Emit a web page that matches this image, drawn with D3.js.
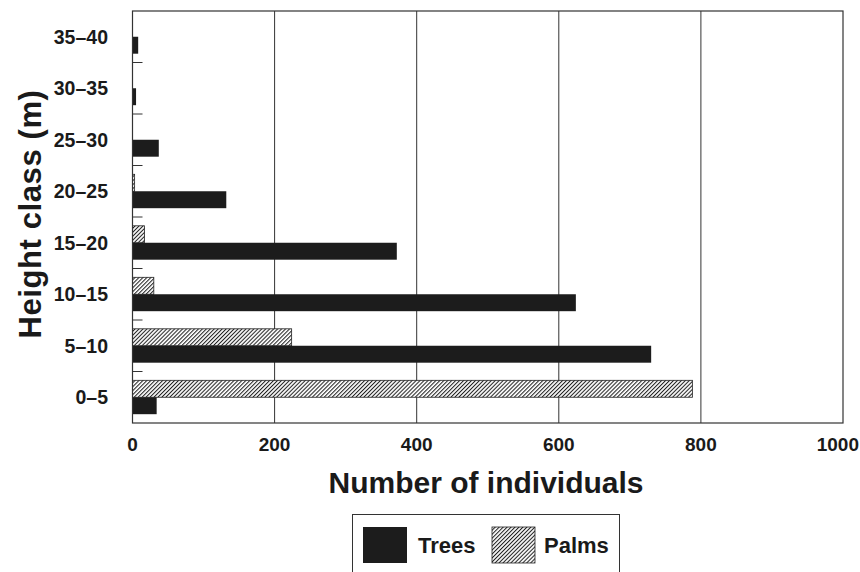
<!DOCTYPE html>
<html><head><meta charset="utf-8">
<script src="https://cdn.jsdelivr.net/npm/d3@7"></script>
<style>body{margin:0;background:#fff}svg{display:block}text{font-family:"Liberation Sans",Arial,sans-serif;font-weight:bold;fill:#1a1a1a}</style>
</head><body>
<script>
const categories = ["0–5","5–10","10–15","15–20","20–25","25–30","30–35","35–40"];
const trees = [34, 730, 624, 372, 132, 37, 5, 8];
const palms = [788, 224, 30, 17, 3, 0, 0, 0];
const xTicks = [0, 200, 400, 600, 800, 1000];
const seriesNames = ["Trees", "Palms"];

const W = 860, H = 572;
const m = {left: 132.5, top: 11, right: 843, bottom: 423};
const svg = d3.select("body").append("svg").attr("width", W).attr("height", H);
const defs = svg.append("defs");
const pat = defs.append("pattern").attr("id","hatch").attr("patternUnits","userSpaceOnUse")
  .attr("width",2.8).attr("height",2.8).attr("patternTransform","rotate(45)");
pat.append("rect").attr("width",2.8).attr("height",2.8).attr("fill","#fff");
pat.append("line").attr("x1",0.5).attr("y1",0).attr("x2",0.5).attr("y2",2.8).attr("stroke","#222").attr("stroke-width",1.1);

const x = d3.scaleLinear().domain([0,1000]).range([m.left, m.right]);
const y = d3.scaleBand().domain(categories.slice().reverse()).range([m.top, m.bottom]);
const inner = d3.scaleBand().domain(["Palms","Trees"]).range([0, y.bandwidth()]).paddingInner(0).paddingOuter(0.52);

// gridlines
svg.append("g").selectAll("line").data(xTicks.filter(d=>d>0 && d<1000)).join("line")
  .attr("x1", d=>x(d)).attr("x2", d=>x(d)).attr("y1", m.top).attr("y2", m.bottom)
  .attr("stroke","#333").attr("stroke-width",1);

// bars
const g = svg.append("g");
categories.forEach((c,i)=>{
  g.append("rect").attr("x", x(0)).attr("y", y(c)+inner("Palms"))
    .attr("width", Math.max(0, x(palms[i])-x(0))).attr("height", inner.bandwidth())
    .attr("fill","url(#hatch)").attr("stroke", palms[i]>0 ? "#222" : "none").attr("stroke-width",0.8);
  g.append("rect").attr("x", x(0)).attr("y", y(c)+inner("Trees"))
    .attr("width", Math.max(0, x(trees[i])-x(0))).attr("height", inner.bandwidth())
    .attr("fill","#1c1c1c");
});

// frame
svg.append("rect").attr("x", m.left).attr("y", m.top).attr("width", m.right-m.left).attr("height", m.bottom-m.top)
  .attr("fill","none").attr("stroke","#333").attr("stroke-width",1.2);

// inner ticks at band boundaries
const bounds = categories.slice(1).map(c=>y(c)+y.bandwidth());
svg.append("g").selectAll("line").data(bounds).join("line")
  .attr("x1", m.left).attr("x2", m.left+10).attr("y1", d=>d).attr("y2", d=>d)
  .attr("stroke","#333").attr("stroke-width",1);

// y labels
svg.append("g").selectAll("text").data(categories).join("text")
  .attr("x", 108).attr("y", d=>y(d)+y.bandwidth()/2+7)
  .attr("text-anchor","end").attr("font-size",19.5).text(d=>d);

// x labels
svg.append("g").selectAll("text").data(xTicks).join("text")
  .attr("x", d=> d===1000 ? W-1 : x(d)).attr("y", 451)
  .attr("text-anchor", d=> d===1000 ? "end" : "middle").attr("font-size",19).text(d=>d);

// titles
svg.append("text").attr("x", 486).attr("y", 493).attr("text-anchor","middle").attr("font-size",30).text("Number of individuals");
svg.append("text").attr("transform","translate(41,214) rotate(-90)").attr("text-anchor","middle").attr("font-size",31).attr("letter-spacing",0.6).text("Height class (m)");

// legend
const lg = svg.append("g");
lg.append("rect").attr("x",352.5).attr("y",514.5).attr("width",267).attr("height",70).attr("fill","#fff").attr("stroke","#333").attr("stroke-width",1);
lg.append("rect").attr("x",363).attr("y",527).attr("width",44).attr("height",36).attr("fill","#1c1c1c");
lg.append("text").attr("x",418).attr("y",553).attr("font-size",22).text(seriesNames[0]);
lg.append("rect").attr("x",492).attr("y",527).attr("width",43).attr("height",36).attr("fill","url(#hatch)").attr("stroke","#222").attr("stroke-width",0.8);
lg.append("text").attr("x",544).attr("y",553).attr("font-size",22).text(seriesNames[1]);
</script>
</body></html>
